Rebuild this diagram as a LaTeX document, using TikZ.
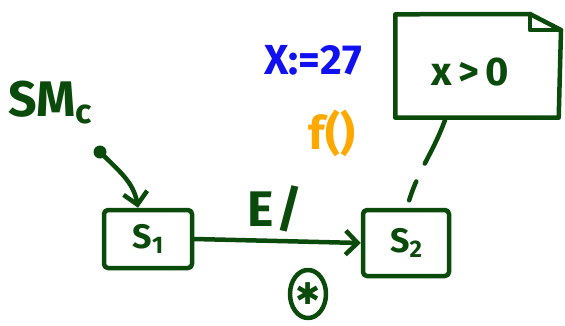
\documentclass[tikz,border=0pt]{standalone}
\usepackage{fontspec}
\setmainfont{Fira Sans}
\newfontfamily\symfont{DejaVu Sans}
\usetikzlibrary{arrows.meta,shapes.geometric}
\definecolor{dg}{HTML}{0A4A0A}
\definecolor{hblue}{HTML}{1010F0}
\definecolor{horange}{HTML}{FFA800}
\tikzset{
  ink/.style={draw=dg, line width=4.5pt, line cap=round, line join=round},
  statebox/.style={ink, rectangle, rounded corners=4pt, text=dg, font=\bfseries\fontsize{34}{36}\selectfont, inner sep=0pt},
  lbl/.style={text=dg, inner sep=0pt},
  arr/.style={ink, -{Straight Barb[length=12pt,width=24pt,line width=4.5pt]}},
}
\newcommand{\sub}[1]{\raisebox{-5pt}{\fontsize{24}{24}\selectfont #1}}
\begin{document}
\begin{tikzpicture}[x=1pt,y=-1pt]
\useasboundingbox (0,0) rectangle (565,325);
% states
\node[statebox, minimum width=88pt, minimum height=58pt] (s1) at (148,239) {S\sub{1}};
\node[statebox, minimum width=86pt, minimum height=66pt] (s2) at (406,243) {S\sub{2}};
% note
\node[minimum width=163pt, minimum height=103pt, inner sep=0pt] (note) at (477,66) {};
\node[lbl, font=\bfseries\fontsize{40}{42}\selectfont] (cond) at (470,72) {x\,>\,0};
\draw[ink] (note.north west) -- (530,14) -- (561,30) -- (note.south east) -- (note.south west) -- cycle;
\draw[ink] (530,14) -- (530,30) -- (561,30);
% initial
\coordinate (initc) at (100,152);
\fill[dg] (initc) circle (6.5pt);
\draw[arr] (initc) to[out=-45,in=100] (s1.north -| 138,0);
\node[lbl, font=\bfseries\fontsize{50}{52}\selectfont] (sm) at (50,103) {SM\raisebox{-7pt}{\fontsize{34}{34}\selectfont c}};
% transition
\draw[arr] (s1.east) -- (s2.west);
\node[lbl, font=\bfseries\fontsize{50}{52}\selectfont] (ev) at (275,209) {E\kern2pt/};
\node[text=horange, inner sep=0pt, font=\bfseries\fontsize{46}{48}\selectfont] (act) at (332,133) {f()};
\node[text=hblue, inner sep=0pt, font=\bfseries\fontsize{42}{44}\selectfont] (asg) at (313,60) {X:=27};
% star marker
\node[ink, ellipse, minimum width=36pt, minimum height=48pt, inner sep=0pt, text=dg, font=\symfont\fontsize{30}{30}\selectfont] (star) at (308,294) {✱};
% note anchor
\coordinate (na) at (445,120);
\draw[ink, dash pattern=on 48pt off 20pt on 20pt off 100pt] (na) to[out=-110,in=75] (s2.north -| 407,0);
\end{tikzpicture}
\end{document}
